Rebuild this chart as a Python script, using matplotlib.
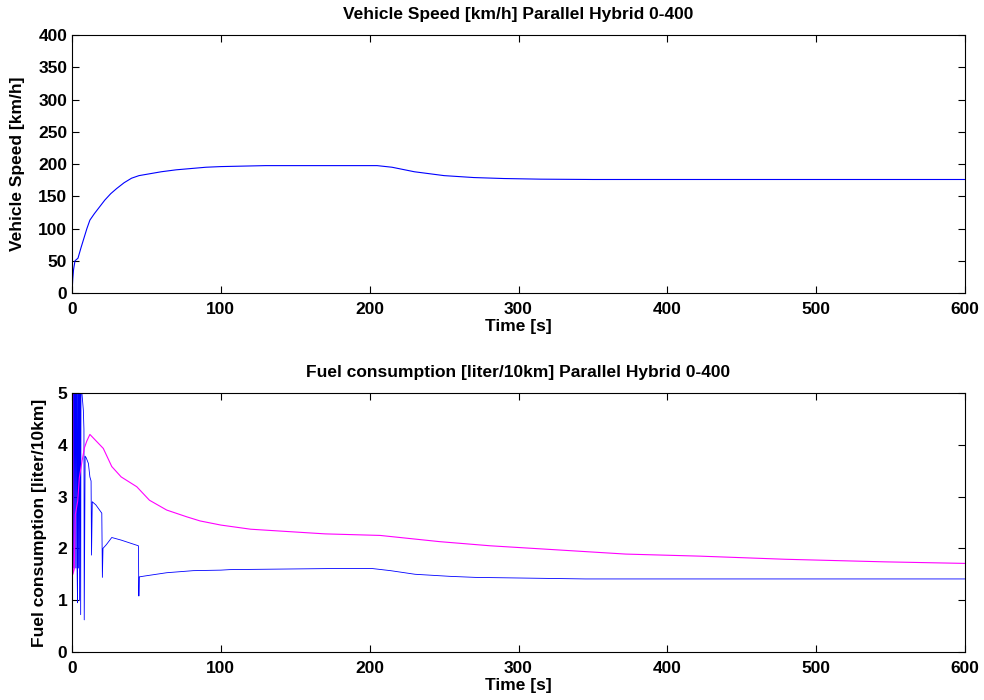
import matplotlib
matplotlib.use("Agg")
import matplotlib.pyplot as plt

plt.rcParams['font.family'] = ['Liberation Sans', 'DejaVu Sans']

# Vehicle speed [km/h] over time [s]
speed_t = [0, 0.5, 1, 2, 4, 6, 8, 10, 12, 15, 18, 22, 26, 30, 35, 40, 45, 50,
           60, 70, 80, 90, 100, 110, 120, 130, 205, 215, 230, 250, 270, 290,
           315, 350, 600]
speed_v = [0, 22, 36, 50, 54, 70, 85, 100, 113, 123, 132, 144, 154, 162, 171,
           178, 182, 184, 188, 191, 193, 195, 196, 196.5, 197, 197.5, 197.5,
           195, 188, 182, 179, 177.5, 176.5, 176, 176]

# Instantaneous fuel consumption [liter/10km]
inst_t = [0.3, 1.0, 1.4, 1.8, 2.2, 2.6, 3.0, 3.4, 3.7, 4.0, 4.4, 4.8, 5.1,
          5.4, 5.8, 6.2, 6.5, 7.6, 8.0, 8.2, 8.8, 9.5, 11, 12, 12.8, 13.1,
          13.6, 16, 20, 20.4, 20.8, 23, 26.7, 33, 44.6, 44.9, 45.2, 49.6,
          63.6, 81.5, 100, 106, 172, 202, 214, 230.5, 254, 271, 345, 600]
inst_v = [9, 1.62, 9, 1.62, 9, 1.62, 9, 1.62, 0.95, 9, 1.62, 9, 1.0, 9, 0.72,
          9, 5.05, 4.67, 4.3, 0.62, 3.78, 3.75, 3.64, 3.38, 3.3, 1.87, 2.9,
          2.84, 2.68, 1.44, 2.0, 2.07, 2.21, 2.16, 2.05, 1.08, 1.45, 1.47,
          1.53, 1.57, 1.58, 1.59, 1.61, 1.61, 1.57, 1.5, 1.46, 1.44, 1.41,
          1.41]

# Average fuel consumption [liter/10km]
avg_t = [0, 0.3, 0.6, 1.5, 2.2, 3.8, 4.9, 6.7, 8.3, 9.9, 12, 16, 21, 26.7,
         33, 43.5, 52, 63.6, 77, 86, 100, 120, 170, 207, 247, 281, 321, 372,
         422, 479, 546, 600]
avg_v = [0, 9, 1.5, 1.6, 2.65, 2.91, 3.36, 3.68, 3.94, 4.07, 4.2, 4.08, 3.93,
         3.58, 3.38, 3.19, 2.93, 2.74, 2.61, 2.53, 2.45, 2.37, 2.28, 2.25,
         2.13, 2.05, 1.98, 1.89, 1.85, 1.79, 1.74, 1.71]

x_ticks = [0, 100, 200, 300, 400, 500, 600]
speed_ticks = [0, 50, 100, 150, 200, 250, 300, 350, 400]
fuel_ticks = [0, 1, 2, 3, 4, 5]

FS = 12.5

fig = plt.figure(figsize=(9.84, 7.0), dpi=100)
ax1 = fig.add_axes([0.0732, 0.5814, 0.9075, 0.3686])
ax2 = fig.add_axes([0.0732, 0.0686, 0.9075, 0.3700])


def style(ax):
    ax.tick_params(direction='in', length=5, width=0.8, top=True, right=True,
                   labelsize=FS)
    ax.tick_params(axis='x', pad=6.5)
    ax.tick_params(axis='y', pad=3.5)
    for lab in ax.get_xticklabels() + ax.get_yticklabels():
        lab.set_fontweight('bold')
    for sp in ax.spines.values():
        sp.set_linewidth(0.8)


ax1.plot(speed_t, speed_v, color='#0000ff', linewidth=0.8)
ax1.set_xlim(0, 600)
ax1.set_ylim(0, 400)
ax1.set_xticks(x_ticks)
ax1.set_yticks(speed_ticks)
style(ax1)
ax1.set_title('Vehicle Speed [km/h] Parallel Hybrid 0-400', fontsize=FS,
              fontweight='bold', pad=11.5)
ax1.set_xlabel('Time [s]', fontsize=FS, fontweight='bold', labelpad=1.5)
ax1.set_ylabel('Vehicle Speed [km/h]', fontsize=FS, fontweight='bold')
ax1.yaxis.set_label_coords(-0.0526, 0.5)

ax2.plot(inst_t, inst_v, color='#0000ff', linewidth=0.6)
ax2.plot(avg_t, avg_v, color='#ff00ff', linewidth=0.8)
ax2.set_xlim(0, 600)
ax2.set_ylim(0, 5)
ax2.set_xticks(x_ticks)
ax2.set_yticks(fuel_ticks)
style(ax2)
ax2.set_title('Fuel consumption [liter/10km] Parallel Hybrid 0-400',
              fontsize=FS, fontweight='bold', pad=11.5)
ax2.set_xlabel('Time [s]', fontsize=FS, fontweight='bold', labelpad=1.5)
ax2.set_ylabel('Fuel consumption [liter/10km]', fontsize=FS,
               fontweight='bold')
ax2.yaxis.set_label_coords(-0.028, 0.5)

fig.savefig('out.png', dpi=100)
